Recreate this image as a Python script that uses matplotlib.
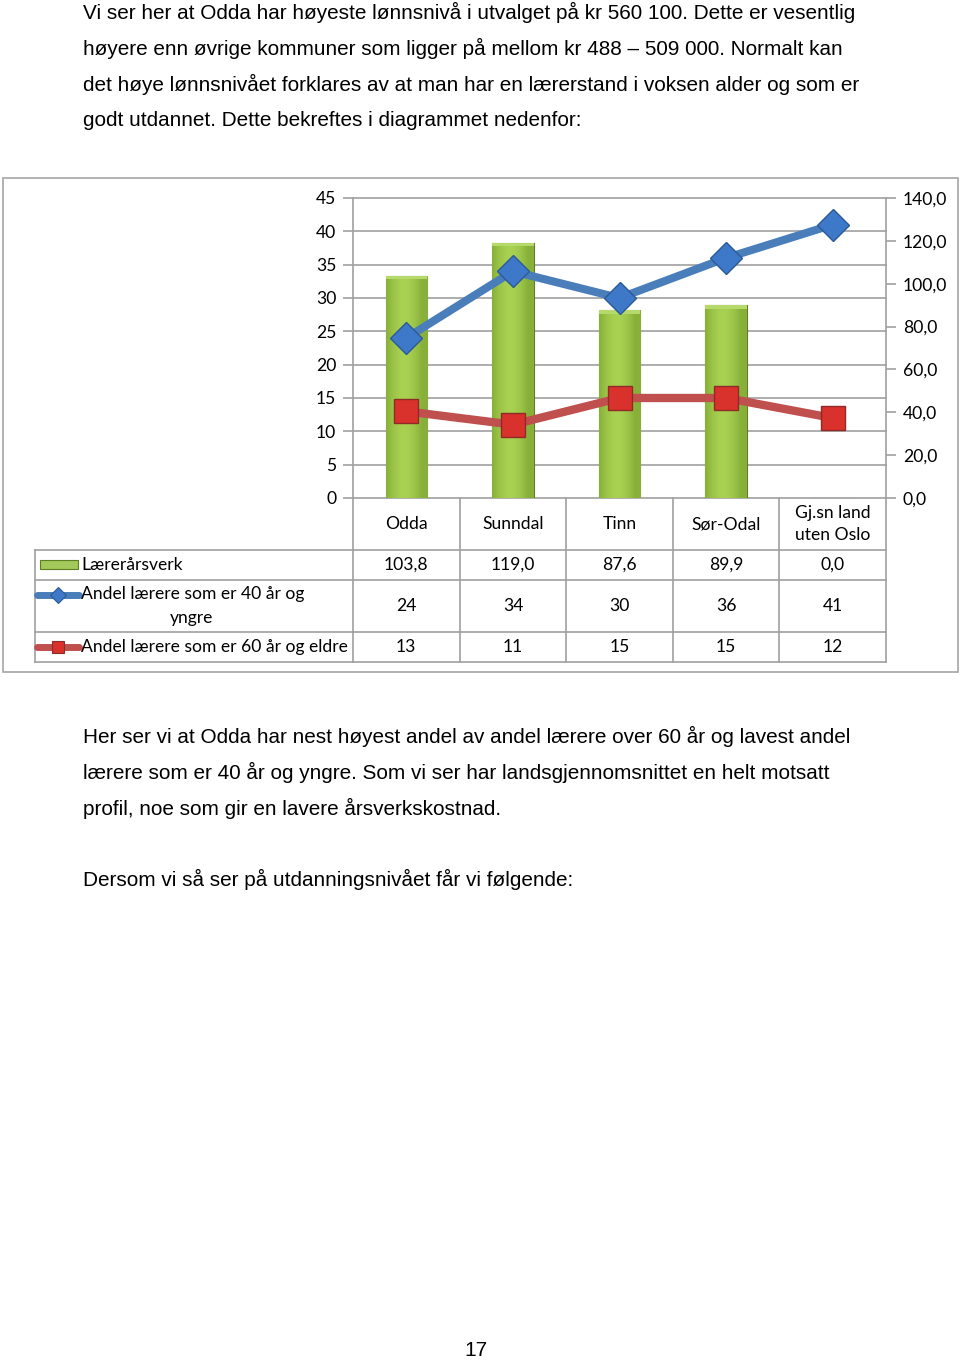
import matplotlib
matplotlib.use('Agg')
import matplotlib.pyplot as plt
import matplotlib.transforms as mtransforms
from matplotlib.patches import Rectangle
import numpy as np

kommuner = ['Odda', 'Sunndal', 'Tinn', 'Sør-Odal', 'Gj.sn land\nuten Oslo']
laererarsverk = [103.8, 119.0, 87.6, 89.9, 0.0]
andel_40 = [24, 34, 30, 36, 41]
andel_60 = [13, 11, 15, 15, 12]
serier = ['Lærerårsverk', 'Andel lærere som er 40 år og', 'Andel lærere som er 60 år og eldre']
venstre_ticks = [0, 5, 10, 15, 20, 25, 30, 35, 40, 45]
hoyre_ticks = [0, 20, 40, 60, 80, 100, 120, 140]

tekst1 = ['Vi ser her at Odda har høyeste lønnsnivå i utvalget på kr 560 100. Dette er vesentlig',
          'høyere enn øvrige kommuner som ligger på mellom kr 488 – 509 000. Normalt kan',
          'det høye lønnsnivået forklares av at man har en lærerstand i voksen alder og som er',
          'godt utdannet. Dette bekreftes i diagrammet nedenfor:']
tekst2 = ['Her ser vi at Odda har nest høyest andel av andel lærere over 60 år og lavest andel',
          'lærere som er 40 år og yngre. Som vi ser har landsgjennomsnittet en helt motsatt',
          'profil, noe som gir en lavere årsverkskostnad.']
tekst3 = 'Dersom vi så ser på utdanningsnivået får vi følgende:'

W, H = 960, 1360
fig = plt.figure(figsize=(W / 100, H / 100), dpi=100)
px = mtransforms.Affine2D().scale(1 / W, -1 / H).translate(0, 1) + fig.transFigure

sidefont = dict(family='Liberation Sans', fontsize=14.95, color='black')
for i, linje in enumerate(tekst1):
    fig.text(83, 12 + i * 36, linje, transform=px, va='center', **sidefont)
for i, linje in enumerate(tekst2):
    fig.text(83, 736 + i * 36, linje, transform=px, va='center', **sidefont)
fig.text(83, 879, tekst3, transform=px, va='center', **sidefont)
fig.text(476, 1350, '17', transform=px, va='center', ha='center', **sidefont)

# ramme rundt diagrammet
fig.patches.append(Rectangle((3, 178), 955, 494, transform=px, fill=False,
                             edgecolor='#A6A6A6', linewidth=1.2))

cfont = dict(family='Lato', fontsize=12.6, color='black')
gridfarge = '#A0A0A0'

x0, x1, y0, y1 = 353, 886, 198, 498
ax = fig.add_axes([x0 / W, 1 - y1 / H, (x1 - x0) / W, (y1 - y0) / H])
ax2 = ax.twinx()
x = np.arange(len(kommuner))

ax.set_xlim(-0.5, len(kommuner) - 0.5)
ax.set_ylim(0, 140)
ax2.set_ylim(0, 45)

# gridlinjer fra venstre akse, tegnet bak søylene
gt = mtransforms.blended_transform_factory(ax.transAxes, ax2.transData)
for v in venstre_ticks:
    ax.plot([0, 1], [v, v], transform=gt, color=gridfarge, lw=1.2, zorder=0.5, clip_on=False)

bars = ax.bar(x, laererarsverk, width=0.39, color='#92BC3F', edgecolor='#5E7E22',
              linewidth=0.8, zorder=2)
grad = np.linspace(0, 1, 64)
grad = 0.5 + 0.5 * np.sin(np.clip(grad * 1.15, 0, 1) * np.pi)
img = np.zeros((1, 64, 3))
lys = np.array([0.66, 0.82, 0.32])
mork = np.array([0.40, 0.56, 0.13])
for k in range(64):
    img[0, k] = mork + (lys - mork) * grad[k]
for b in bars:
    if b.get_height() <= 0:
        continue
    im = ax.imshow(img, extent=[b.get_x(), b.get_x() + b.get_width(), 0, b.get_height()],
                   aspect='auto', zorder=2.1, interpolation='bicubic')
    im.set_clip_path(b)
    ax.add_patch(Rectangle((b.get_x(), b.get_height() - 1.6), b.get_width(), 1.6,
                           color='#B5D96A', zorder=2.2, lw=0))
ax.set_xlim(-0.5, len(kommuner) - 0.5)
ax.set_ylim(0, 140)

ax2.plot(x, andel_40, color='#4A7EBB', lw=5.8, marker='D', ms=16, mfc='#3E78C8',
         mec='#2B5A96', mew=1, solid_capstyle='butt', zorder=3)
ax2.plot(x, andel_60, color='#C0504D', lw=6, marker='s', ms=17, mfc='#D9312B',
         mec='#8E2B28', mew=1, solid_capstyle='butt', zorder=3)

# akser
ax.yaxis.tick_right()
ax.set_yticks(hoyre_ticks)
ax.set_yticklabels([f'{v:.1f}'.replace('.', ',') for v in hoyre_ticks], **cfont)
ax2.yaxis.tick_left()
ax2.set_yticks(venstre_ticks)
ax2.set_yticklabels([str(v) for v in venstre_ticks], **cfont)
for a in (ax, ax2):
    a.set_xticks([])
    a.tick_params(axis='y', length=7, width=1.2, color=gridfarge, pad=5)
    for s in a.spines.values():
        s.set_visible(False)
ax.patch.set_visible(False)
ax2.patch.set_visible(False)
for side in ('left', 'right'):
    ax2.spines[side].set_visible(True)
    ax2.spines[side].set_color(gridfarge)
    ax2.spines[side].set_linewidth(1.2)

# datatabell under diagrammet
tt = mtransforms.blended_transform_factory(ax.transData, px)
rader = [498, 550, 580, 632, 662]
kol = np.arange(len(kommuner) + 1) - 0.5
lkw = dict(color=gridfarge, lw=1.2, clip_on=False)
for k in kol:
    ax.plot([k, k], [rader[0], rader[-1]], transform=tt, **lkw)
fig.lines.append(plt.Line2D([35, 35], [550, 662], transform=px, **lkw))
for r in rader[1:]:
    fig.lines.append(plt.Line2D([35, x0], [r, r], transform=px, **lkw))
    ax.plot([kol[0], kol[-1]], [r, r], transform=tt, **lkw)

for i, navn in enumerate(kommuner):
    ax.text(x[i], 524, navn, transform=tt, ha='center', va='center', linespacing=1.45, **cfont)
    ax.text(x[i], 565, f'{laererarsverk[i]:.1f}'.replace('.', ','), transform=tt,
            ha='center', va='center', **cfont)
    ax.text(x[i], 606, str(andel_40[i]), transform=tt, ha='center', va='center', **cfont)
    ax.text(x[i], 647, str(andel_60[i]), transform=tt, ha='center', va='center', **cfont)

fig.text(81, 565, serier[0], transform=px, va='center', **cfont)
fig.text(81, 594, serier[1], transform=px, va='center', **cfont)
fig.text(192, 618, 'yngre', transform=px, va='center', ha='center', **cfont)
fig.text(81, 647, serier[2], transform=px, va='center', **cfont)

# forklaringssymboler
fig.patches.append(Rectangle((40, 560), 38, 9, transform=px, facecolor='#A3C95A',
                             edgecolor='#5E7E22', lw=0.8))
fig.lines.append(plt.Line2D([37, 79], [595, 595], transform=px, color='#4A7EBB', lw=5,
                            solid_capstyle='round'))
fig.lines.append(plt.Line2D([58], [595], transform=px, marker='D', ms=8, mfc='#3E78C8',
                            mec='#2B5A96', mew=0.8))
fig.lines.append(plt.Line2D([37, 79], [647, 647], transform=px, color='#C0504D', lw=5,
                            solid_capstyle='round'))
fig.lines.append(plt.Line2D([58], [647], transform=px, marker='s', ms=9, mfc='#D9312B',
                            mec='#8E2B28', mew=0.8))

fig.savefig('out.png', dpi=100, facecolor='white')
